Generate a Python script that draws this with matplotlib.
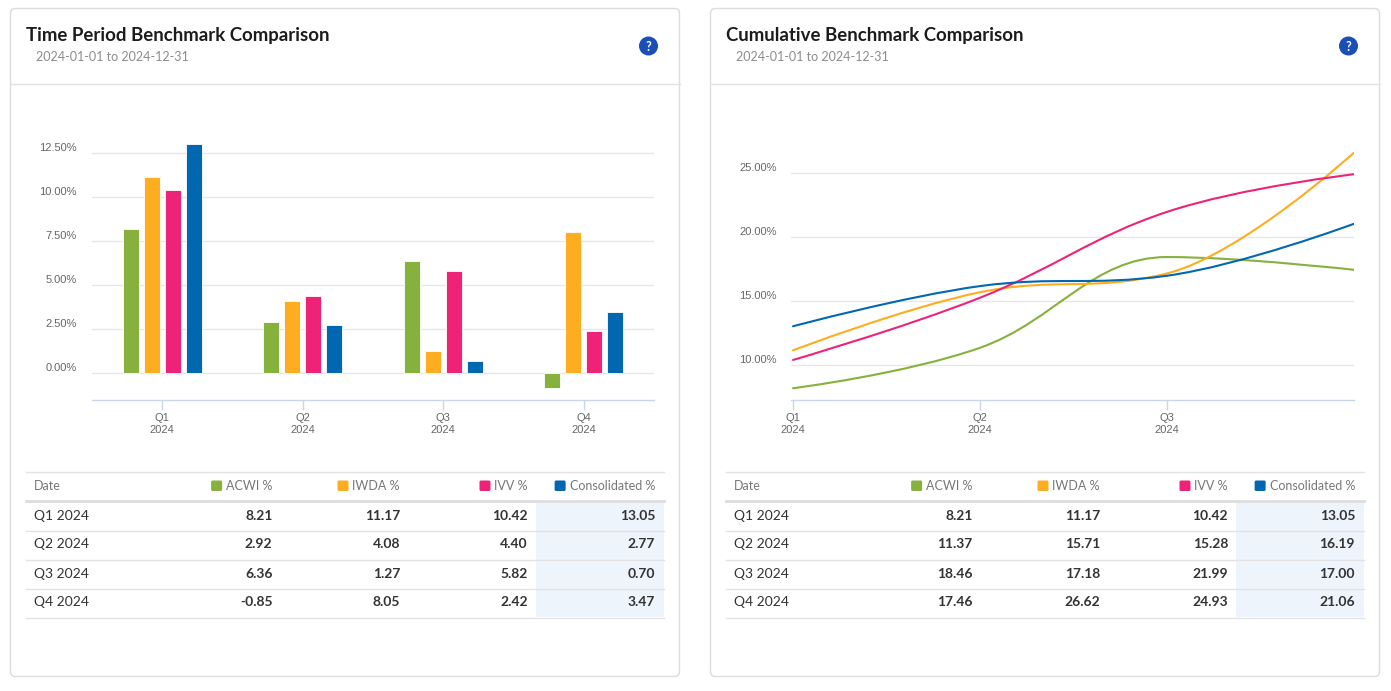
import matplotlib
matplotlib.use('Agg')
import matplotlib.pyplot as plt
from matplotlib.path import Path
from matplotlib.patches import PathPatch, FancyBboxPatch, Rectangle, Circle
from matplotlib.transforms import ScaledTranslation

# ---------------- data ----------------
quarters = ['Q1', 'Q2', 'Q3', 'Q4']
year = '2024'
series_names = ['ACWI %', 'IWDA %', 'IVV %', 'Consolidated %']
series_colors = ['#86b13d', '#fdad1f', '#ee2378', '#0267b1']

period_acwi = [8.21, 2.92, 6.36, -0.85]
period_iwda = [11.17, 4.08, 1.27, 8.05]
period_ivv = [10.42, 4.40, 5.82, 2.42]
period_cons = [13.05, 2.77, 0.70, 3.47]

cum_acwi = [8.21, 11.37, 18.46, 17.46]
cum_iwda = [11.17, 15.71, 17.18, 26.62]
cum_ivv = [10.42, 15.28, 21.99, 24.93]
cum_cons = [13.05, 16.19, 17.00, 21.06]

bar_yticks = [0, 2.5, 5, 7.5, 10, 12.5]
line_yticks = [10, 15, 20, 25]
line_xticks = ['Q1', 'Q2', 'Q3']

titles = ['Time Period Benchmark Comparison', 'Cumulative Benchmark Comparison']
subtitle = '2024-01-01 to 2024-12-31'

# ---------------- setup ----------------
W, H, DPI = 1391, 691, 100
FONT = ['Lato', 'DejaVu Sans']
AXFONT = ['Liberation Sans', 'DejaVu Sans']
plt.rcParams['font.family'] = FONT

fig = plt.figure(figsize=(W / DPI, H / DPI), dpi=DPI)
fig.patch.set_facecolor('white')

bg = fig.add_axes([0, 0, 1, 1], zorder=0)
bg.set_xlim(0, W)
bg.set_ylim(H, 0)
bg.axis('off')


def rect(x0, y0, x1, y1):
    return [x0 / W, 1 - y1 / H, (x1 - x0) / W, (y1 - y0) / H]


GRID = '#e6e6e6'
AXIS = '#ccd6eb'
LABEL = '#666666'

# ---------------- panels ----------------
for off, title in zip([0, 700], titles):
    bg.add_patch(FancyBboxPatch((10.5 + off, 8.5), 669, 668,
                                boxstyle='round,pad=0,rounding_size=5',
                                ec='#dcdcdc', fc='white', lw=1))
    bg.plot([10.5 + off, 679.5 + off], [83.5, 83.5], color='#e3e3e3', lw=1)
    bg.text(26 + off, 35.5, title, fontsize=13.4, fontweight='bold',
            color='#1c1c1c', va='center', ha='left')
    bg.text(36 + off, 56.5, subtitle, fontsize=9.0, color='#8c8c8c',
            va='center', ha='left')
    bg.add_patch(Circle((648.5 + off, 46), 8.8, color='#1b4fb8'))
    bg.text(648.5 + off, 46.5, '?', fontsize=9, fontweight='bold',
            color='white', ha='center', va='center')


def yoffset_labels(ax):
    off = ScaledTranslation(0, 0.06, fig.dpi_scale_trans)
    for lab in ax.get_yticklabels():
        lab.set_transform(lab.get_transform() + off)
        lab.set_fontfamily(AXFONT)
    for lab in ax.get_xticklabels():
        lab.set_fontfamily(AXFONT)


def style_axes(ax, ypad_px):
    ax.set_facecolor('none')
    for s in ['top', 'right', 'left']:
        ax.spines[s].set_visible(False)
    ax.spines['bottom'].set_color(AXIS)
    ax.spines['bottom'].set_linewidth(1)
    ax.grid(axis='y', color=GRID, lw=1)
    ax.set_axisbelow(True)
    ax.tick_params(axis='y', length=0, pad=ypad_px * 0.72, labelsize=8.0,
                   labelcolor=LABEL)
    ax.tick_params(axis='x', length=7.2, width=1, color=AXIS, pad=2.5,
                   labelsize=8.0, labelcolor=LABEL)


# ---------------- bar chart ----------------
axb = fig.add_axes(rect(92, 110, 654, 400), zorder=1)
style_axes(axb, 15)
period_series = [period_acwi, period_iwda, period_ivv, period_cons]
xpos = list(range(len(quarters)))
bw, pitch = 0.114, 0.1495
for i, (vals, c) in enumerate(zip(period_series, series_colors)):
    axb.bar([x + (i - 1.5) * pitch for x in xpos], vals, width=bw,
            color=c, edgecolor='white', linewidth=0.6, zorder=2)
axb.set_xlim(-0.5, 3.5)
axb.set_ylim(-1.517, 14.96)
axb.set_yticks(bar_yticks, [f'{v:.2f}%' for v in bar_yticks])
axb.set_xticks(xpos, [f'{q}\n{year}' for q in quarters])
yoffset_labels(axb)


# ---------------- line chart ----------------
def spline_path(xs, ys):
    n = len(xs)
    sm = 1.5
    den = sm + 1
    lc = [None] * n
    rc = [None] * n
    for i in range(1, n - 1):
        px, py = xs[i], ys[i]
        lx, ly = xs[i - 1], ys[i - 1]
        nx, ny = xs[i + 1], ys[i + 1]
        lcx = (sm * px + lx) / den
        lcy = (sm * py + ly) / den
        rcx = (sm * px + nx) / den
        rcy = (sm * py + ny) / den
        corr = 0
        if rcx != lcx:
            corr = (rcy - lcy) * (rcx - px) / (rcx - lcx) + py - rcy
        lcy += corr
        rcy += corr
        if lcy > ly and lcy > py:
            lcy = max(ly, py); rcy = 2 * py - lcy
        elif lcy < ly and lcy < py:
            lcy = min(ly, py); rcy = 2 * py - lcy
        if rcy > ny and rcy > py:
            rcy = max(ny, py); lcy = 2 * py - rcy
        elif rcy < ny and rcy < py:
            rcy = min(ny, py); lcy = 2 * py - rcy
        lc[i] = (lcx, lcy)
        rc[i] = (rcx, rcy)
    verts = [(xs[0], ys[0])]
    codes = [Path.MOVETO]
    for i in range(1, n):
        c1 = rc[i - 1] if rc[i - 1] is not None else (xs[i - 1], ys[i - 1])
        c2 = lc[i] if lc[i] is not None else (xs[i], ys[i])
        verts += [c1, c2, (xs[i], ys[i])]
        codes += [Path.CURVE4] * 3
    return Path(verts, codes)


axl = fig.add_axes(rect(791, 110, 1354, 400), zorder=1)
style_axes(axl, 14)
cum_series = [cum_acwi, cum_iwda, cum_ivv, cum_cons]
for vals, c in zip(cum_series, series_colors):
    p = spline_path(xpos, vals)
    axl.add_patch(PathPatch(p, fill=False, ec=c, lw=1.5, zorder=3,
                            capstyle='round', joinstyle='round'))
axl.set_xlim(-0.0107, 3)
axl.set_ylim(7.29, 29.95)
axl.set_yticks(line_yticks, [f'{v:.2f}%' for v in line_yticks])
axl.set_xticks(range(len(line_xticks)), [f'{q}\n{year}' for q in line_xticks])
yoffset_labels(axl)


# ---------------- tables ----------------
def draw_table(off, cols):
    x0, x1 = 26 + off, 664 + off
    right_edges = [272.5 + off, 400 + off, 528 + off, 655 + off]
    bg.add_patch(Rectangle((536 + off, 501), 128, 116, color='#edf4fb', lw=0))
    bg.plot([x0, x1], [471.5, 471.5], color='#e3e3e3', lw=1)
    bg.plot([x0, x1], [501, 501], color='#dddddd', lw=2)
    for yl in [530.5, 559.5, 588.5, 617.5]:
        bg.plot([x0, x1], [yl, yl], color='#e3e3e3', lw=1)
    bg.text(34 + off, 486, 'Date', fontsize=9.0, color='#777777', va='center')
    r = fig.canvas.get_renderer()
    inv = bg.transData.inverted()
    for name, c, xr in zip(series_names, series_colors, right_edges):
        t = bg.text(xr, 486, name, fontsize=9.0, color='#777777',
                    va='center', ha='right')
        bb = t.get_window_extent(renderer=r)
        xl = inv.transform((bb.x0, bb.y0))[0]
        bg.add_patch(FancyBboxPatch((xl - 15, 480.5), 11, 10.5,
                                    boxstyle='round,pad=0,rounding_size=1.5',
                                    fc=c, ec='none'))
    for j, q in enumerate(quarters):
        yc = 515.5 + 29 * j
        bg.text(34 + off, yc, f'{q} {year}', fontsize=10, color='#333333',
                va='center')
        for vals, xr in zip(cols, right_edges):
            bg.text(xr, yc, f'{vals[j]:.2f}', fontsize=10, fontweight='bold',
                    color='#333333', va='center', ha='right')


draw_table(0, period_series)
draw_table(700, cum_series)

fig.savefig('out.png', dpi=DPI, facecolor='white')
